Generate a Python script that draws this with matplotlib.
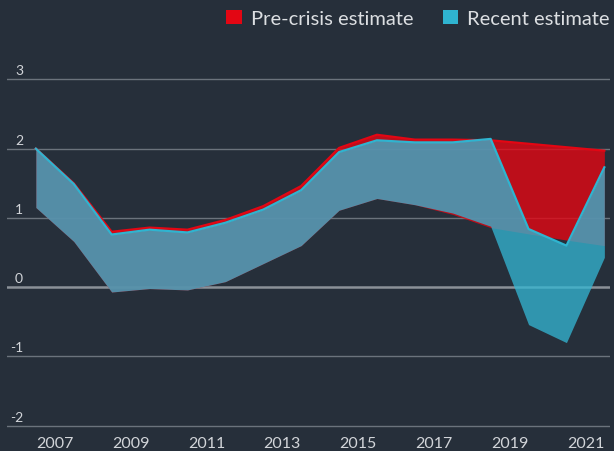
import matplotlib.pyplot as plt
from matplotlib.patches import Patch
import matplotlib.transforms as mtransforms

# data (mid-year points)
years = [2006.5, 2007.5, 2008.5, 2009.5, 2010.5, 2011.5, 2012.5, 2013.5,
         2014.5, 2015.5, 2016.5, 2017.5, 2018.5, 2019.5, 2020.5, 2021.5]

pre_crisis_high = [2.00, 1.50, 0.80, 0.86, 0.83, 0.97, 1.17, 1.46,
                   2.01, 2.20, 2.13, 2.13, 2.12, 2.07, 2.02, 1.97]
pre_crisis_low = [1.15, 0.66, -0.07, -0.02, -0.04, 0.08, 0.34, 0.60,
                  1.11, 1.28, 1.19, 1.05, 0.86, 0.77, 0.68, 0.60]

recent_high = [2.00, 1.49, 0.76, 0.83, 0.79, 0.93, 1.12, 1.40,
               1.95, 2.12, 2.09, 2.09, 2.14, 0.84, 0.60, 1.73]
recent_low = [1.15, 0.66, -0.07, -0.02, -0.04, 0.08, 0.34, 0.60,
              1.11, 1.28, 1.19, 1.07, 0.88, -0.54, -0.80, 0.43]

y_ticks = [3, 2, 1, 0, -1, -2]
x_ticks = [2007, 2009, 2011, 2013, 2015, 2017, 2019, 2021]

series_names = ["Pre-crisis estimate", "Recent estimate"]

bg = "#262f3a"
red = "#e30613"
cyan = "#2fb4d0"
blue_fill = "#34b6d3"
text_col = "#d2d5d9"

plt.rcParams["font.family"] = ["Lato", "DejaVu Sans"]

fig = plt.figure(figsize=(6.14, 4.52), dpi=100, facecolor=bg)
ax = fig.add_axes([7 / 614, 0.0436, 603 / 614, 0.794])
ax.set_facecolor(bg)

# gridlines
for v in y_ticks:
    if v == 0:
        ax.axhline(v, color="#8b9198", lw=1.8, zorder=0)
    else:
        ax.axhline(v, color="#6b737c", lw=1.0, zorder=0)

# bands
ax.fill_between(years, pre_crisis_low, pre_crisis_high, color=red, alpha=0.8, lw=0, zorder=1)
ax.plot(years, pre_crisis_high, color=red, lw=1.6, zorder=2)
ax.fill_between(years, recent_low, recent_high, color=blue_fill, alpha=0.76, lw=0, zorder=3)
ax.plot(years, recent_high, color=cyan, lw=1.6, zorder=4)

ax.set_xlim(2005.739, 2021.649)
ax.set_ylim(-2.08, 3.1)

for s in ax.spines.values():
    s.set_visible(False)

ax.set_yticks([])
ax.set_xticks(x_ticks)
ax.set_xticklabels([str(y) for y in x_ticks])
ax.tick_params(axis="x", length=0, pad=3.5, labelsize=11.5, labelcolor=text_col)

# y labels sit just above their gridline
trans = mtransforms.offset_copy(ax.get_yaxis_transform(), fig=fig, x=0, y=3, units="dots")
for v in y_ticks:
    ax.text(16 / 603, v, str(v), transform=trans, ha="right", va="bottom",
            fontsize=10, color=text_col)

handles = [Patch(facecolor=red, edgecolor="none"), Patch(facecolor=cyan, edgecolor="none")]
leg = fig.legend(handles, series_names, loc="upper right", bbox_to_anchor=(1.0, 0.985),
                 ncol=2, frameon=False, fontsize=14.5, handlelength=0.75, handleheight=0.7,
                 handletextpad=0.45, columnspacing=1.5, borderpad=0.2, borderaxespad=0)
for t in leg.get_texts():
    t.set_color("#dcdfe2")

fig.savefig("out.png", dpi=100, facecolor=bg)
